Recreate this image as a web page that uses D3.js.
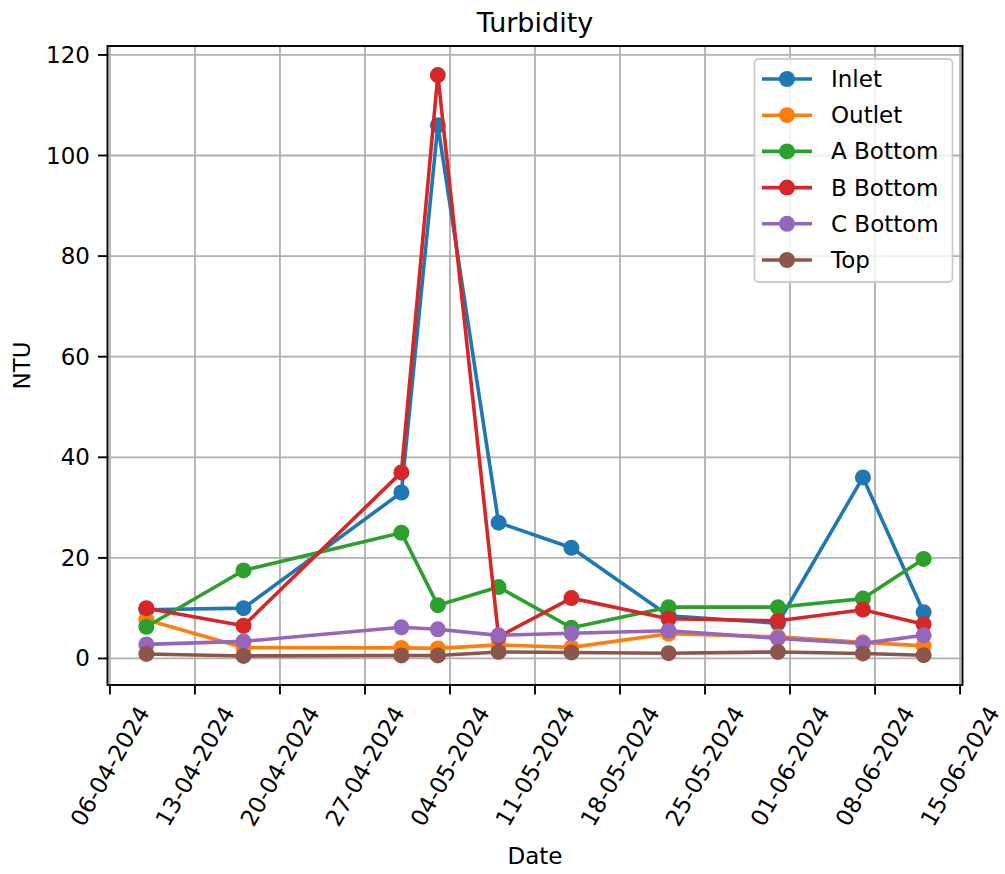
<!DOCTYPE html>
<html>
<head>
<meta charset="utf-8">
<script src="https://cdn.jsdelivr.net/npm/d3@7/dist/d3.min.js"></script>
<style>
  html, body { margin: 0; padding: 0; background: #ffffff; }
  svg { display: block; font-family: "DejaVu Sans", sans-serif; }
</style>
</head>
<body>
<svg id="chart" width="1005" height="874"></svg>
<script>
// Sampling dates (dd-mm-yyyy)
const dates = ["09-04-2024", "17-04-2024", "30-04-2024", "03-05-2024", "08-05-2024",
               "14-05-2024", "22-05-2024", "31-05-2024", "07-06-2024", "12-06-2024"];

// Turbidity readings (NTU) per sampling point
const inlet   = [9.7, 10, 33, 106, 27, 22, 8.5, 7, 36, 9.2];
const outlet  = [7.7, 2.2, 2.1, 2.0, 2.7, 2.2, 4.9, 4.3, 3.2, 2.5];
const aBottom = [6.3, 17.5, 25, 10.6, 14.2, 6.1, 10.2, 10.2, 11.9, 19.8];
const bBottom = [10, 6.5, 37, 116, 4.3, 12, 7.9, 7.5, 9.7, 6.8];
const cBottom = [2.8, 3.4, 6.2, 5.8, 4.6, 5.0, 5.5, 4.0, 3.0, 4.6];
const top_    = [0.9, 0.5, 0.6, 0.6, 1.3, 1.2, 1.05, 1.3, 1.0, 0.65];

const seriesNames = ["Inlet", "Outlet", "A Bottom", "B Bottom", "C Bottom", "Top"];
const seriesValues = [inlet, outlet, aBottom, bBottom, cBottom, top_];
const seriesColors = ["#1f77b4", "#ff7f0e", "#2ca02c", "#d62728", "#9467bd", "#8c564b"];

// Axis tick labels
const xTickLabels = ["06-04-2024", "13-04-2024", "20-04-2024", "27-04-2024", "04-05-2024",
                     "11-05-2024", "18-05-2024", "25-05-2024", "01-06-2024", "08-06-2024", "15-06-2024"];
const yTickValues = [0, 20, 40, 60, 80, 100, 120];

const parse = d3.utcParse("%d-%m-%Y");
const fmt = d3.utcFormat("%d-%m-%Y");

const svg = d3.select("#chart");
const plot = { left: 107.5, right: 962.5, top: 46, bottom: 685 };

const fs = 23;      // tick, axis label and legend font size
const lw = 3.6;     // series line width
const mr = 8;       // marker radius

// Scales with 5% padding around the data extent
const xDates = dates.map(parse);
const xExt = d3.extent(xDates);
const xPad = (xExt[1] - xExt[0]) * 0.05;
const x = d3.scaleUtc()
  .domain([new Date(+xExt[0] - xPad), new Date(+xExt[1] + xPad)])
  .range([plot.left, plot.right]);

const allVals = seriesValues.flat();
const yMin = d3.min(allVals), yMax = d3.max(allVals);
const yPad = (yMax - yMin) * 0.05;
const y = d3.scaleLinear()
  .domain([yMin - yPad, yMax + yPad])
  .range([plot.bottom, plot.top]);

const xTicks = xTickLabels.map(parse);

// Grid
const grid = svg.append("g").attr("stroke", "#b0b0b0").attr("stroke-width", 1.8);
xTicks.forEach(t => {
  grid.append("line").attr("x1", x(t)).attr("x2", x(t))
    .attr("y1", plot.top).attr("y2", plot.bottom);
});
yTickValues.forEach(v => {
  grid.append("line").attr("x1", plot.left).attr("x2", plot.right)
    .attr("y1", y(v)).attr("y2", y(v));
});

// Series lines and markers
const line = d3.line().x((d, i) => x(xDates[i])).y(d => y(d));
seriesValues.forEach((vals, si) => {
  const g = svg.append("g");
  g.append("path").datum(vals)
    .attr("d", line)
    .attr("fill", "none")
    .attr("stroke", seriesColors[si])
    .attr("stroke-width", lw)
    .attr("stroke-linejoin", "round")
    .attr("stroke-linecap", "butt");
  g.selectAll("circle").data(vals).join("circle")
    .attr("cx", (d, i) => x(xDates[i]))
    .attr("cy", d => y(d))
    .attr("r", mr)
    .attr("fill", seriesColors[si]);
});

// Spines
svg.append("rect")
  .attr("x", plot.left).attr("y", plot.top)
  .attr("width", plot.right - plot.left).attr("height", plot.bottom - plot.top)
  .attr("fill", "none").attr("stroke", "#000").attr("stroke-width", 1.9);

// Y axis ticks and labels
const tickLen = 9.5, tickPad = 8;
yTickValues.forEach(v => {
  svg.append("line").attr("x1", plot.left - tickLen).attr("x2", plot.left)
    .attr("y1", y(v)).attr("y2", y(v)).attr("stroke", "#000").attr("stroke-width", 1.9);
  svg.append("text")
    .attr("x", plot.left - tickLen - tickPad).attr("y", y(v))
    .attr("text-anchor", "end").attr("dominant-baseline", "central")
    .attr("font-size", fs).attr("fill", "#000")
    .text(v);
});

// X axis ticks and labels rotated 60°
const ang = 60 * Math.PI / 180;
xTicks.forEach(t => {
  const tx = x(t);
  svg.append("line").attr("x1", tx).attr("x2", tx)
    .attr("y1", plot.bottom).attr("y2", plot.bottom + tickLen)
    .attr("stroke", "#000").attr("stroke-width", 1.9);
  const txt = svg.append("text")
    .attr("text-anchor", "middle").attr("dominant-baseline", "central")
    .attr("font-size", fs).attr("fill", "#000")
    .text(fmt(t));
  const L = txt.node().getComputedTextLength();
  const h = fs * 1.0;
  const H = L * Math.sin(ang) + h * Math.cos(ang);
  const cy = plot.bottom + tickLen + tickPad + H / 2;
  txt.attr("transform", `translate(${tx},${cy}) rotate(-60)`);
});

// Axis titles
svg.append("text")
  .attr("x", (plot.left + plot.right) / 2).attr("y", 864)
  .attr("text-anchor", "middle").attr("font-size", fs).attr("fill", "#000")
  .text("Date");
svg.append("text")
  .attr("transform", `translate(30,${(plot.top + plot.bottom) / 2}) rotate(-90)`)
  .attr("text-anchor", "middle").attr("font-size", fs).attr("fill", "#000")
  .text("NTU");
svg.append("text")
  .attr("x", (plot.left + plot.right) / 2).attr("y", 32)
  .attr("text-anchor", "middle").attr("font-size", 27).attr("fill", "#000")
  .text("Turbidity");

// Legend
const leg = svg.append("g");
leg.append("rect")
  .attr("x", 754.5).attr("y", 59).attr("width", 198).attr("height", 223)
  .attr("rx", 4).attr("ry", 4)
  .attr("fill", "#ffffff").attr("fill-opacity", 0.8)
  .attr("stroke", "#cccccc").attr("stroke-width", 1.8);
seriesNames.forEach((name, i) => {
  const ly = 79 + i * 36.2;
  leg.append("line").attr("x1", 762).attr("x2", 812).attr("y1", ly).attr("y2", ly)
    .attr("stroke", seriesColors[i]).attr("stroke-width", lw);
  leg.append("circle").attr("cx", 787).attr("cy", ly).attr("r", mr)
    .attr("fill", seriesColors[i]);
  leg.append("text").attr("x", 831).attr("y", ly)
    .attr("dominant-baseline", "central").attr("font-size", fs).attr("fill", "#000")
    .text(name);
});
</script>
</body>
</html>
